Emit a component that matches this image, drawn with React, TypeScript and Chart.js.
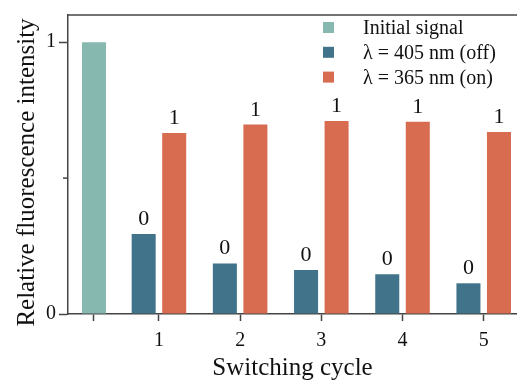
import React, { useEffect, useRef } from 'react';
import { Chart, registerables } from 'chart.js';

Chart.register(...registerables);

// ---- data ----
const cyclePositions = [1, 2, 3, 4, 5];
const initialPosition = [0.2];
const initialValues = [1.0];
const offValues = [0.294, 0.186, 0.162, 0.146, 0.113];
const onValues = [0.666, 0.697, 0.71, 0.707, 0.67];
const offStateLabels = ['0', '0', '0', '0', '0'];
const onStateLabels = ['1', '1', '1', '1', '1'];
const seriesNames = ['Initial signal', 'λ = 405 nm (off)', 'λ = 365 nm (on)'];
const xTickValues = [0.2, 1, 2, 3, 4, 5];
const xTickLabels = ['', '1', '2', '3', '4', '5'];
const yTickValues = [0, 0.5, 1];
const yTickLabels = ['0', '', '1'];
const xTitle = 'Switching cycle';
const yTitle = 'Relative fluorescence intensity';

const SERIF = "'Liberation Serif', 'Times New Roman', serif";
const COLORS = ['#87B8AF', '#41738A', '#D76C51'];
const AXIS = '#444';
const TEXT = '#111';

const framePlugin = {
  id: 'frame',
  afterDraw(chart: any) {
    const { ctx, chartArea } = chart;
    ctx.save();
    ctx.strokeStyle = AXIS;
    ctx.lineWidth = 1.5;
    ctx.beginPath();
    ctx.moveTo(chartArea.left - 0.75, chartArea.top);
    ctx.lineTo(chartArea.right, chartArea.top);
    ctx.stroke();
    // minor tick at 0.5
    const y = chart.scales.y.getPixelForValue(0.5);
    ctx.beginPath();
    ctx.moveTo(chartArea.left - 5, y);
    ctx.lineTo(chartArea.left, y);
    ctx.stroke();
    // y axis title
    ctx.translate(27, (chartArea.top + chartArea.bottom) / 2 + 8);
    ctx.rotate(-Math.PI / 2);
    ctx.font = `25px ${SERIF}`;
    ctx.fillStyle = TEXT;
    ctx.textAlign = 'center';
    ctx.textBaseline = 'middle';
    ctx.fillText(yTitle, 0, 0);
    ctx.restore();
  },
};

const barLabelPlugin = {
  id: 'barLabels',
  afterDatasetsDraw(chart: any) {
    const { ctx } = chart;
    const sets = [
      { idx: 1, labels: offStateLabels },
      { idx: 2, labels: onStateLabels },
    ];
    ctx.save();
    ctx.font = `22px ${SERIF}`;
    ctx.fillStyle = TEXT;
    ctx.textAlign = 'center';
    ctx.textBaseline = 'alphabetic';
    sets.forEach(({ idx, labels }) => {
      const meta = chart.getDatasetMeta(idx);
      meta.data.forEach((el: any, i: number) => {
        ctx.fillText(labels[i], el.x, el.y - 9);
      });
    });
    ctx.restore();
  },
};

const legendPlugin = {
  id: 'customLegend',
  afterDraw(chart: any) {
    const { ctx } = chart;
    ctx.save();
    ctx.font = `20px ${SERIF}`;
    ctx.textAlign = 'left';
    ctx.textBaseline = 'alphabetic';
    chart.data.datasets.forEach((ds: any, i: number) => {
      const base = 34 + i * 24.8;
      ctx.fillStyle = ds.backgroundColor;
      ctx.fillRect(323, base - 12, 11, 11);
      ctx.fillStyle = TEXT;
      ctx.fillText(ds.label, 363, base);
    });
    ctx.restore();
  },
};

export default function App() {
  const ref = useRef<HTMLCanvasElement | null>(null);

  useEffect(() => {
    if (!ref.current) return;
    const chart = new Chart(ref.current, {
      type: 'bar',
      data: {
        datasets: [
          {
            label: seriesNames[0],
            data: initialPosition.map((x, i) => ({ x, y: initialValues[i] })),
            backgroundColor: COLORS[0],
            grouped: false,
            maxBarThickness: 24,
          } as any,
          {
            label: seriesNames[1],
            data: cyclePositions.map((x, i) => ({ x, y: offValues[i] })),
            backgroundColor: COLORS[1],
            categoryPercentage: 0.94,
            barPercentage: 0.787,
          },
          {
            label: seriesNames[2],
            data: cyclePositions.map((x, i) => ({ x, y: onValues[i] })),
            backgroundColor: COLORS[2],
            categoryPercentage: 0.94,
            barPercentage: 0.787,
          },
        ],
      },
      options: {
        responsive: true,
        maintainAspectRatio: false,
        animation: false,
        layout: { padding: { top: 14, left: 0, right: 0, bottom: 0 } },
        plugins: {
          legend: { display: false },
          tooltip: { enabled: false },
        },
        scales: {
          x: {
            type: 'linear',
            offset: false,
            min: -0.12,
            max: 5.41,
            afterBuildTicks: (s: any) => {
              s.ticks = xTickValues.map((v) => ({ value: v }));
            },
            afterFit: (s: any) => {
              s.height = 70;
            },
            ticks: {
              callback: (_v: any, i: number) => xTickLabels[i],
              font: { family: SERIF, size: 20 },
              color: TEXT,
              padding: 8,
              maxRotation: 0,
              autoSkip: false,
            },
            grid: {
              display: true,
              offset: false,
              drawOnChartArea: false,
              drawTicks: true,
              tickLength: 7,
              tickColor: AXIS,
              tickWidth: 1.5,
            },
            border: { display: true, color: AXIS, width: 1.5 },
            title: {
              display: true,
              text: xTitle,
              font: { family: SERIF, size: 25 },
              color: TEXT,
              padding: { top: 0, bottom: 1 },
            },
          },
          y: {
            type: 'linear',
            min: 0,
            max: 1.1,
            afterBuildTicks: (s: any) => {
              s.ticks = yTickValues.map((v) => ({ value: v }));
            },
            afterFit: (s: any) => {
              s.width = 68;
            },
            ticks: {
              callback: (_v: any, i: number) => yTickLabels[i],
              font: { family: SERIF, size: 20 },
              color: TEXT,
              padding: 3,
            },
            grid: {
              display: true,
              drawOnChartArea: false,
              drawTicks: true,
              tickLength: 9,
              tickColor: (c: any) => (c.tick && c.tick.value === 0.5 ? 'rgba(0,0,0,0)' : AXIS),
              tickWidth: 1.5,
            },
            border: { display: true, color: AXIS, width: 1.5 },
            title: { display: false, text: yTitle },
          },
        },
      },
      plugins: [framePlugin, barLabelPlugin, legendPlugin],
    });
    return () => chart.destroy();
  }, []);

  return (
    <div style={{ position: 'absolute', left: 0, top: 0, width: 517, height: 384 }}>
      <canvas ref={ref} />
    </div>
  );
}
